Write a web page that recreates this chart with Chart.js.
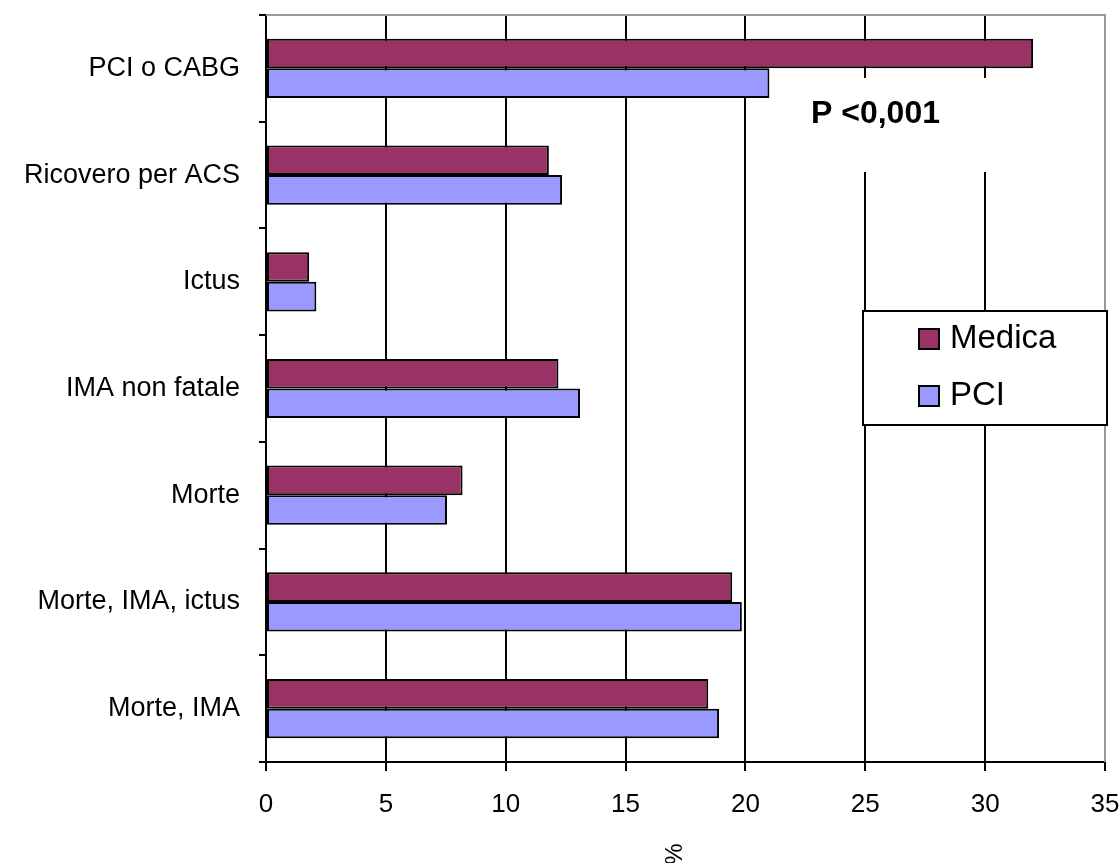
<!DOCTYPE html>
<html>
<head>
<meta charset="utf-8">
<script src="https://cdn.jsdelivr.net/npm/chart.js@4.4.1/dist/chart.umd.min.js"></script>
<style>
  html, body { margin: 0; padding: 0; background: #fff; }
  #wrap { width: 1120px; height: 863px; }
</style>
</head>
<body>
<div id="wrap"><canvas id="chart" width="1120" height="863"></canvas></div>
<script>
// data
const categories = ['PCI o CABG', 'Ricovero per ACS', 'Ictus', 'IMA non fatale', 'Morte', 'Morte, IMA, ictus', 'Morte, IMA'];
const medica = [32.0, 11.8, 1.8, 12.2, 8.2, 19.45, 18.45];
const pci = [21.0, 12.35, 2.1, 13.1, 7.55, 19.85, 18.9];
const xTicks = [0, 5, 10, 15, 20, 25, 30, 35];
const pLabel = 'P <0,001';
const axisTitle = '%';

const FONT = '"Liberation Sans", Arial, sans-serif';
Chart.defaults.font.family = FONT;
Chart.defaults.color = '#000';

// extra drawing: plot frame, p-value box, legend, rotated axis title
const extras = {
  id: 'extras',
  beforeDatasetsDraw(chart) {
    const { ctx, chartArea: a } = chart;
    ctx.save();
    ctx.strokeStyle = '#9a9a9a';
    ctx.lineWidth = 2;
    ctx.beginPath();
    ctx.moveTo(a.left, a.top);
    ctx.lineTo(a.right, a.top);
    ctx.lineTo(a.right, a.bottom);
    ctx.stroke();

    // p-value box sits over the grid lines
    ctx.fillStyle = '#fff';
    ctx.fillRect(785, 78, 262, 94);
    ctx.fillStyle = '#000';
    ctx.font = 'bold 32px ' + FONT;
    ctx.textAlign = 'left';
    ctx.textBaseline = 'middle';
    ctx.fillText(pLabel, 811, 114);
    ctx.restore();
  },
  afterDraw(chart) {
    const { ctx, chartArea: a } = chart;
    ctx.save();
    ctx.textBaseline = 'middle';

    // legend
    const lx = 863, ly = 311, lw = 244, lh = 114;
    ctx.fillStyle = '#fff';
    ctx.fillRect(lx, ly, lw, lh);
    ctx.strokeStyle = '#000';
    ctx.lineWidth = 2;
    ctx.strokeRect(lx, ly, lw, lh);
    ctx.font = '33px ' + FONT;
    chart.data.datasets.forEach((ds, i) => {
      const cy = 339 + i * 57;
      ctx.fillStyle = ds.backgroundColor;
      ctx.fillRect(919, cy - 10, 20, 20);
      ctx.strokeStyle = '#000';
      ctx.strokeRect(919, cy - 10, 20, 20);
      ctx.fillStyle = '#000';
      ctx.fillText(ds.label, 950, cy);
    });

    // rotated axis title
    ctx.translate((a.left + a.right) / 2 - 10, 854);
    ctx.rotate(-Math.PI / 2);
    ctx.font = '24px ' + FONT;
    ctx.textAlign = 'center';
    ctx.fillText(axisTitle, 0, 0);
    ctx.restore();
  }
};

new Chart(document.getElementById('chart'), {
  type: 'bar',
  data: {
    labels: categories,
    datasets: [
      {
        label: 'Medica',
        data: medica,
        backgroundColor: '#993366',
        borderColor: '#000',
        borderWidth: 2,
        borderSkipped: false,
        categoryPercentage: 0.555,
        barPercentage: 1
      },
      {
        label: 'PCI',
        data: pci,
        backgroundColor: '#9999FF',
        borderColor: '#000',
        borderWidth: 2,
        borderSkipped: false,
        categoryPercentage: 0.555,
        barPercentage: 1
      }
    ]
  },
  options: {
    indexAxis: 'y',
    responsive: false,
    animation: false,
    layout: { padding: { top: 15, right: 15, bottom: 0, left: 0 } },
    plugins: {
      legend: { display: false },
      tooltip: { enabled: false }
    },
    scales: {
      x: {
        min: 0,
        max: 35,
        afterBuildTicks: (scale) => { scale.ticks = xTicks.map(v => ({ value: v })); },
        afterFit: (scale) => {
          scale.height = 101;
          scale.paddingLeft = 0;
          scale.paddingRight = 0;
        },
        border: { color: '#000', width: 2 },
        grid: {
          color: (c) => c.tick && c.tick.value === 35 ? '#9a9a9a' : '#000',
          tickColor: '#000',
          lineWidth: 2,
          tickLength: 9
        },
        ticks: {
          font: { size: 26 },
          color: '#000',
          padding: 18
        }
      },
      y: {
        afterFit: (scale) => {
          scale.width = 266;
          scale.paddingTop = 0;
          scale.paddingBottom = 0;
        },
        border: { color: '#000', width: 2 },
        grid: {
          offset: true,
          drawOnChartArea: false,
          tickColor: '#000',
          lineWidth: 2,
          tickLength: 7
        },
        ticks: {
          font: { size: 27 },
          color: '#000',
          padding: 19
        }
      }
    }
  },
  plugins: [extras]
});
</script>
</body>
</html>
